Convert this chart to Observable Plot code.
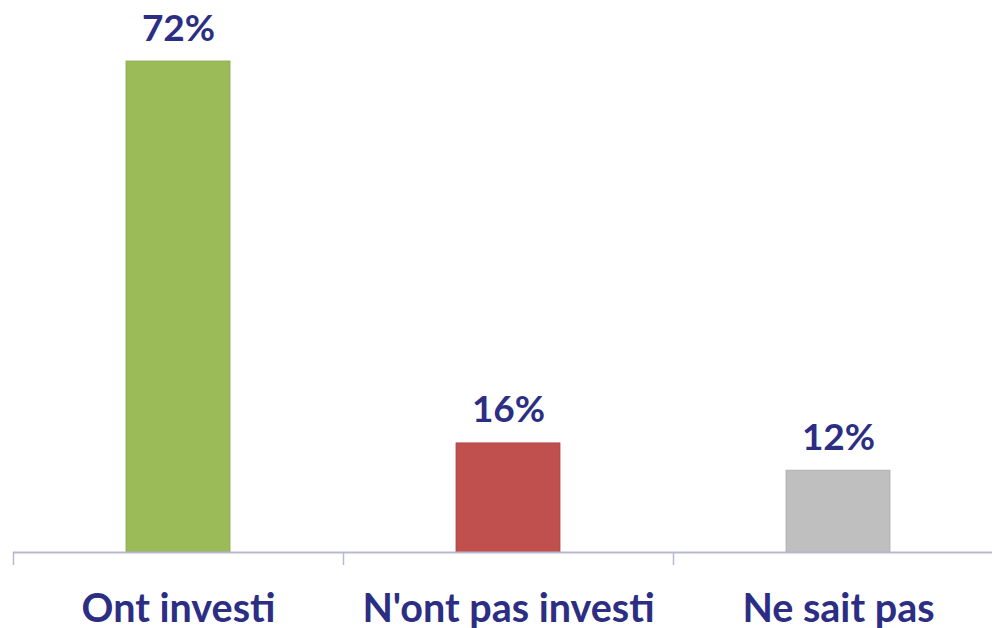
<!DOCTYPE html>
<html>
<head>
<meta charset="utf-8">
<script src="https://cdn.jsdelivr.net/npm/d3@7"></script>
<script src="https://cdn.jsdelivr.net/npm/@observablehq/plot@0.6"></script>
<style>
  html, body { margin: 0; padding: 0; background: #fff; }
  #chart svg { display: block; }
</style>
</head>
<body>
<div id="chart"></div>
<script>
const categories = ["Ont investi", "N'ont pas investi", "Ne sait pas"];
const values = [72, 16, 12];
const colors = ["#9BBB59", "#C0504D", "#BFBFBF"];
const edgeColors = ["#8AA84C", "#AC4744", "#ABABAB"];
const valueLabels = ["72%", "16%", "12%"];

const data = categories.map((c, i) => ({category: c, value: values[i], label: valueLabels[i], color: colors[i], edge: edgeColors[i]}));

const W = 992, H = 628;
const xRange = [13, 1003];
const step = (xRange[1] - xRange[0]) / categories.length;
const navy = "#2B2E83";
const font = "Lato, 'Open Sans', sans-serif";

const chart = Plot.plot({
  width: W,
  height: H,
  marginTop: 61,
  marginBottom: 76,
  marginLeft: 13,
  marginRight: 0,
  style: {fontFamily: font, background: "#fff"},
  color: {type: "identity"},
  x: {domain: categories, range: xRange, paddingInner: 0.685, paddingOuter: 0.3425, axis: null},
  y: {domain: [0, 72], axis: null},
  marks: [
    Plot.barY(data, {x: "category", y: "value", fill: "color", stroke: "edge", strokeWidth: 0.8}),
    Plot.ruleY([0], {stroke: "#B9B9CE", strokeWidth: 2}),
    Plot.ruleX(categories, {x: d => d, dx: -step / 2, y1: 0, y2: 0, insetBottom: -13, stroke: "#B9B9CE", strokeWidth: 1.5}),
    Plot.text(data, {x: "category", y: "value", text: "label", dy: -21, lineAnchor: "bottom", fill: navy, fontSize: 37, fontWeight: "bold"}),
    Plot.axisX({domain: categories, tickSize: 0, tickPadding: 41, fontSize: 39.5, fontWeight: "bold", color: navy, label: null})
  ]
});
document.getElementById("chart").appendChild(chart);
</script>
</body>
</html>
